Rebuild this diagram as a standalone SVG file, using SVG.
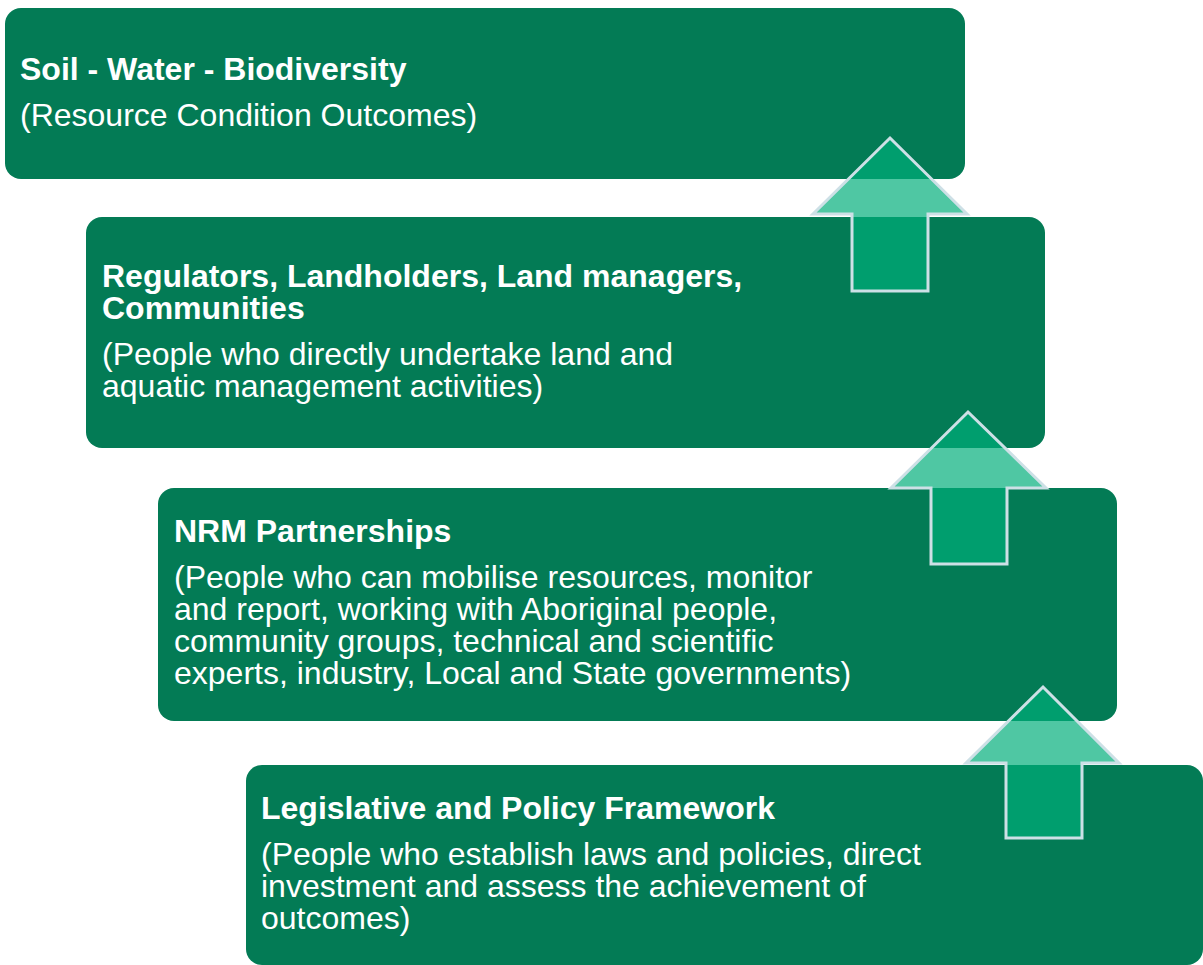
<svg xmlns="http://www.w3.org/2000/svg" width="1203" height="965" viewBox="0 0 1203 965">
<style>
.box{fill:#037b55}
.t{font-family:"Liberation Sans",Arial,sans-serif;font-size:32px;fill:#ffffff}
.b{font-weight:bold}
.arr{fill:rgb(0,174,121);fill-opacity:0.69;stroke:#cde0e6;stroke-width:3;stroke-linejoin:miter}
</style>
<rect width="1203" height="965" fill="#ffffff"/>
<g id="node1">
<rect class="box" x="5" y="8" width="960" height="171" rx="16"/>
<text class="t b" x="20" y="80">Soil - Water - Biodiversity</text>
<text class="t" x="20" y="126">(Resource Condition Outcomes)</text>
</g>
<g id="node2">
<rect class="box" x="86" y="217" width="959" height="231" rx="16"/>
<text class="t b" x="102" y="287">Regulators, Landholders, Land managers,</text>
<text class="t b" x="102" y="319">Communities</text>
<text class="t" x="102" y="365">(People who directly undertake land and</text>
<text class="t" x="102" y="397">aquatic management activities)</text>
</g>
<g id="node3">
<rect class="box" x="158" y="488" width="959" height="233" rx="16"/>
<text class="t b" x="174" y="542">NRM Partnerships</text>
<text class="t" x="174" y="588">(People who can mobilise resources, monitor</text>
<text class="t" x="174" y="620">and report, working with Aboriginal people,</text>
<text class="t" x="174" y="652">community groups, technical and scientific</text>
<text class="t" x="174" y="684">experts, industry, Local and State governments)</text>
</g>
<g id="node4">
<rect class="box" x="246" y="765" width="957" height="200" rx="16"/>
<text class="t b" x="261" y="819">Legislative and Policy Framework</text>
<text class="t" x="261" y="865">(People who establish laws and policies, direct</text>
<text class="t" x="261" y="897">investment and assess the achievement of</text>
<text class="t" x="261" y="929">outcomes)</text>
</g>
<g id="connectors">
<path class="arr" d="M890,138 L967,214 L928,214 L928,291 L852,291 L852,214 L813,214 Z"/>
<path class="arr" d="M968,412 L1046,488 L1007,488 L1007,564 L931,564 L931,488 L891,488 Z"/>
<path class="arr" d="M1043,687 L1119,763 L1082,763 L1082,838 L1006,838 L1006,763 L966,763 Z"/>
</g>
</svg>
